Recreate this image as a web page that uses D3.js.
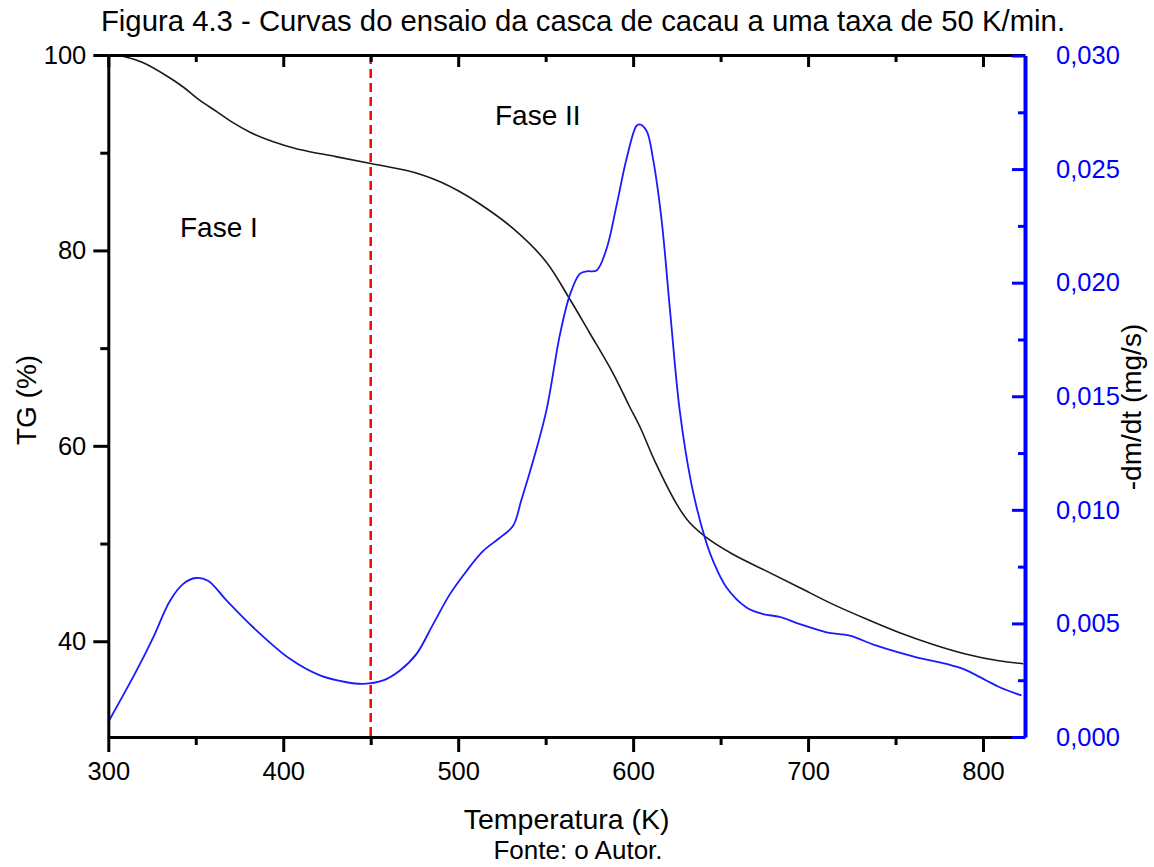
<!DOCTYPE html>
<html>
<head>
<meta charset="utf-8">
<script src="https://cdn.jsdelivr.net/npm/d3@7"></script>
<style>
  html, body { margin: 0; padding: 0; background: #fff; }
  svg { display: block; font-family: "Liberation Sans", Arial, sans-serif; }
</style>
</head>
<body>
<svg id="chart" width="1154" height="867"></svg>
<script>
// Temperature (K) for the TG curve
const tgTemp = [300, 310, 320, 333, 343, 352, 362, 371, 381, 390, 400, 410, 430, 450, 470, 480, 490, 500,
  512, 531, 550, 563.5, 575, 588.6, 598, 604, 613, 625, 632, 642, 657, 676, 695, 714,
  733, 752, 771, 790, 809, 823];
// TG mass fraction (%)
const tgValue = [100, 99.8, 99.2, 97.9, 96.7, 95.4, 94.2, 93.1, 92.1, 91.4, 90.8, 90.3, 89.6, 88.9, 88.2, 87.7, 87.0, 86.1,
  84.8, 82.3, 78.9, 75.1, 71.6, 67.4, 64.0, 61.9, 58.2, 54.0, 52.2, 50.6, 48.9, 47.2, 45.5, 43.8,
  42.3, 40.9, 39.7, 38.7, 38.0, 37.7];

// Temperature (K) for the DTG curve
const dtgTemp = [300, 316.2, 325.7, 335.3, 343, 350, 357, 367.7, 382.9, 403.8, 421, 436.2, 445.7, 457.1, 466.7, 476.2,
  485.7, 495.3, 504.8, 514.3, 523.8, 531.4, 536, 543, 550.5, 558.1, 563.8, 569.5, 573.4, 579.1, 584.8, 590.5, 596.2,
  601.9, 603.8, 607.7, 611.4, 616.2, 621, 626.7, 633.4, 641, 645.7, 653.4, 664.8, 674.3, 683.8, 695.3, 710.5, 723.8,
  739.1, 762, 779, 788.6, 801.9, 809.5, 822];
// -dm/dt (mg/s)
const dtgValue = [0.00066, 0.00293, 0.00439, 0.0060, 0.00675, 0.0070, 0.00688, 0.0060, 0.00482, 0.00344, 0.00271, 0.00241,
  0.00234, 0.00249, 0.00293, 0.00366, 0.00497, 0.00629, 0.00731, 0.00819, 0.00877, 0.00930, 0.01040, 0.01220, 0.01440, 0.01769,
  0.01945, 0.02039, 0.02050, 0.02054, 0.02149, 0.02339, 0.02544, 0.02690, 0.02697, 0.02668, 0.02544, 0.02281, 0.01886,
  0.01433, 0.01111, 0.00877, 0.00775, 0.00658, 0.00570, 0.00541, 0.00529, 0.00497, 0.00461, 0.00446, 0.00402, 0.00351,
  0.00322, 0.00300, 0.00249, 0.00219, 0.00183];

// Axis ticks
const xMajor = [300, 400, 500, 600, 700, 800];
const xMinor = [350, 450, 550, 650, 750];
const tgMajor = [40, 60, 80, 100];
const tgMinor = [50, 70, 90];
const dtgMajor = [0, 0.005, 0.010, 0.015, 0.020, 0.025, 0.030];
const dtgMinor = [0.0025, 0.0075, 0.0125, 0.0175, 0.0225, 0.0275];

// Phase boundary and labels
const phaseBoundary = 450;
const phaseLabels = ["Fase I", "Fase II"];

const svg = d3.select("#chart");
const plotLeft = 108.3, plotRight = 1025, plotTop = 55, plotBottom = 737;

const x = d3.scaleLinear().domain([300, 824]).range([plotLeft, plotRight]);
const yTG = d3.scaleLinear().domain([30.2, 100]).range([plotBottom, plotTop]);
const yDTG = d3.scaleLinear().domain([0, 0.030]).range([plotBottom, plotTop + 0.5]);

const ptBR = d3.formatLocale({ decimal: ",", thousands: ".", grouping: [3], currency: ["", ""] });
const fmt3 = ptBR.format(".3f");

const BLUE = "#0000ff";
const smooth = d3.curveCatmullRom.alpha(0.5);

// Title
svg.append("text")
  .attr("x", 583).attr("y", 31)
  .attr("text-anchor", "middle")
  .attr("font-size", 29.3)
  .attr("fill", "#000")
  .text("Figura 4.3 - Curvas do ensaio da casca de cacau a uma taxa de 50 K/min.");

// Curves
const tgData = tgTemp.map((t, i) => [t, tgValue[i]]);
const dtgData = dtgTemp.map((t, i) => [t, dtgValue[i]]);

svg.append("path")
  .datum(tgData)
  .attr("fill", "none")
  .attr("stroke", "#1a1a1a")
  .attr("stroke-width", 1.6)
  .attr("d", d3.line().x(d => x(d[0])).y(d => yTG(d[1])).curve(smooth));

svg.append("path")
  .datum(dtgData)
  .attr("fill", "none")
  .attr("stroke", "#1a1aff")
  .attr("stroke-width", 1.8)
  .attr("d", d3.line().x(d => x(d[0])).y(d => yDTG(d[1])).curve(smooth));

// Phase boundary
svg.append("line")
  .attr("x1", x(phaseBoundary)).attr("x2", x(phaseBoundary))
  .attr("y1", plotTop).attr("y2", plotBottom)
  .attr("stroke", "#ff0000")
  .attr("stroke-width", 2.5)
  .attr("stroke-dasharray", "9,5");

// Phase labels
svg.append("text").attr("x", 180).attr("y", 237).attr("font-size", 28).attr("fill", "#000").text(phaseLabels[0]);
svg.append("text").attr("x", 495).attr("y", 125).attr("font-size", 28).attr("fill", "#000").text(phaseLabels[1]);

function styleAxis(g, color, width) {
  g.select(".domain").attr("stroke", color).attr("stroke-width", width);
  g.selectAll(".tick line").attr("stroke", color).attr("stroke-width", 3);
  g.selectAll(".tick text").attr("fill", color).attr("font-size", 25.5).attr("font-family", "Liberation Sans, Arial, sans-serif");
}
function minorTicks(g, color) {
  g.select(".domain").remove();
  g.selectAll(".tick line").attr("stroke", color).attr("stroke-width", 3);
}

// Bottom axis
const gx = svg.append("g").attr("transform", `translate(0,${plotBottom})`)
  .call(d3.axisBottom(x).tickValues(xMajor).tickSize(15).tickSizeOuter(0).tickPadding(10).tickFormat(d3.format("d")));
styleAxis(gx, "#000", 3);
svg.append("g").attr("transform", `translate(0,${plotBottom})`)
  .call(d3.axisBottom(x).tickValues(xMinor).tickSize(8).tickSizeOuter(0).tickFormat(""))
  .call(g => minorTicks(g, "#000"));

// Top axis (inward ticks, no labels)
const gxt = svg.append("g").attr("transform", `translate(0,${plotTop})`)
  .call(d3.axisTop(x).tickValues(xMajor).tickSize(-12).tickSizeOuter(0).tickFormat(""));
styleAxis(gxt, "#000", 3);
svg.append("g").attr("transform", `translate(0,${plotTop})`)
  .call(d3.axisTop(x).tickValues(xMinor).tickSize(-7).tickSizeOuter(0).tickFormat(""))
  .call(g => minorTicks(g, "#000"));

// Left axis (TG)
const gyl = svg.append("g").attr("transform", `translate(${plotLeft},0)`)
  .call(d3.axisLeft(yTG).tickValues(tgMajor).tickSize(15).tickSizeOuter(0).tickPadding(7).tickFormat(d3.format("d")));
styleAxis(gyl, "#000", 3);
svg.append("g").attr("transform", `translate(${plotLeft},0)`)
  .call(d3.axisLeft(yTG).tickValues(tgMinor).tickSize(8).tickSizeOuter(0).tickFormat(""))
  .call(g => minorTicks(g, "#000"));

// Right axis (DTG, inward ticks)
const gyr = svg.append("g").attr("transform", `translate(${plotRight},0)`)
  .call(d3.axisRight(yDTG).tickValues(dtgMajor).tickSize(-13).tickSizeOuter(0).tickPadding(31).tickFormat(fmt3));
styleAxis(gyr, BLUE, 4);
svg.append("g").attr("transform", `translate(${plotRight},0)`)
  .call(d3.axisRight(yDTG).tickValues(dtgMinor).tickSize(-7).tickSizeOuter(0).tickFormat(""))
  .call(g => minorTicks(g, BLUE));

// Axis titles
svg.append("text")
  .attr("x", (plotLeft + plotRight) / 2).attr("y", 829)
  .attr("text-anchor", "middle").attr("font-size", 28.5).attr("fill", "#000")
  .text("Temperatura (K)");

svg.append("text")
  .attr("transform", "translate(36,400) rotate(-90)")
  .attr("text-anchor", "middle").attr("font-size", 28).attr("fill", "#000")
  .text("TG (%)");

svg.append("text")
  .attr("transform", "translate(1141,407) rotate(-90)")
  .attr("text-anchor", "middle").attr("font-size", 28).attr("fill", "#000")
  .text("-dm/dt (mg/s)");

// Source note
svg.append("text")
  .attr("x", 578).attr("y", 859)
  .attr("text-anchor", "middle").attr("font-size", 26).attr("fill", "#000")
  .text("Fonte: o Autor.");
</script>
</body>
</html>
